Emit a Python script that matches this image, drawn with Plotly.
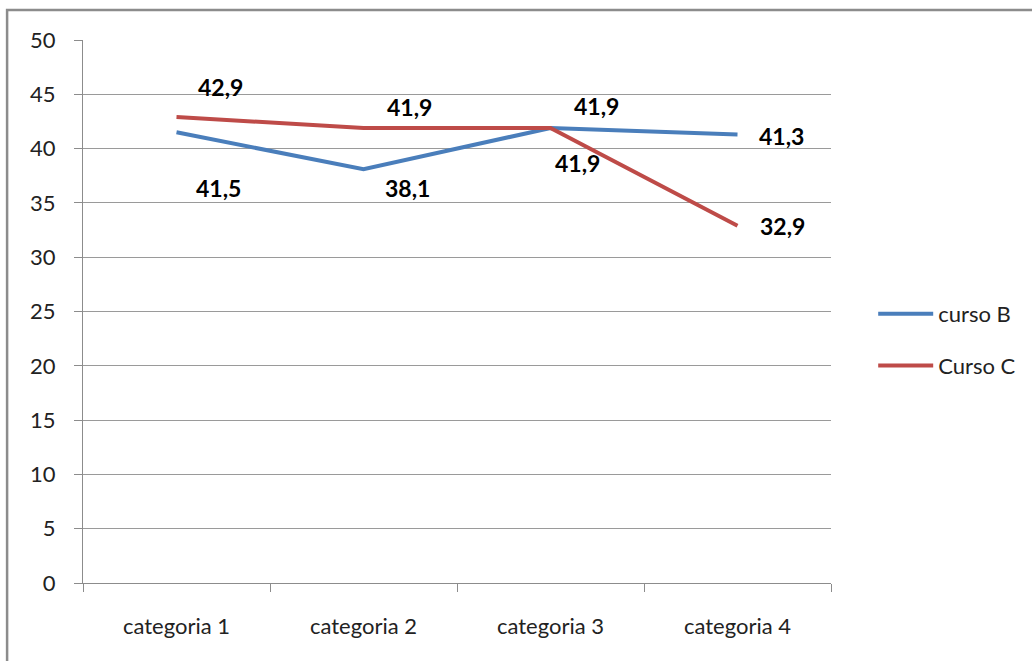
import plotly.graph_objects as go

categories = ["categoria 1", "categoria 2", "categoria 3", "categoria 4"]
curso_b = [41.5, 38.1, 41.9, 41.3]
curso_c = [42.9, 41.9, 41.9, 32.9]
labels_b = ["41,5", "38,1", "41,9", "41,3"]
labels_c = ["42,9", "41,9", "41,9", "32,9"]
y_ticks = [0, 5, 10, 15, 20, 25, 30, 35, 40, 45, 50]

# label pixel offsets (Excel-like placement)
off_b = [(42, -56), (44, -19), (27, -35), (44, -2)]
off_c = [(44, 30), (46, 21), (46, 22), (45, 0)]

FONT = "Lato"
BLUE = "#4A7EBB"
RED = "#BE4B48"

fig = go.Figure()
fig.add_trace(go.Scatter(x=categories, y=curso_b, mode="lines", name="curso B",
                         line=dict(color=BLUE, width=4), legendgroup="b"))
fig.add_trace(go.Scatter(x=categories, y=curso_c, mode="lines", name="Curso C",
                         line=dict(color=RED, width=4), legendgroup="c"))

for cat, v, t, (dx, dy) in zip(categories, curso_b, labels_b, off_b):
    fig.add_annotation(x=cat, y=v, text="<b>%s</b>" % t, showarrow=False,
                       xshift=dx, yshift=dy, font=dict(family=FONT, size=23, color="#000"))
for cat, v, t, (dx, dy) in zip(categories, curso_c, labels_c, off_c):
    fig.add_annotation(x=cat, y=v, text="<b>%s</b>" % t, showarrow=False,
                       xshift=dx, yshift=dy, font=dict(family=FONT, size=23, color="#000"))

L, R, T, B = 83, 200, 40, 78
W, H = 1032, 661
pw, ph = W - L - R, H - T - B
fig.add_shape(type="rect", xref="paper", yref="paper",
              x0=(7 - L) / pw, x1=(W + 10 - L) / pw,
              y0=(H - B - (H + 10)) / ph, y1=(H - B - 10) / ph,
              line=dict(color="#8c8c8c", width=2.5), fillcolor="rgba(0,0,0,0)")

fig.update_layout(
    width=W, height=H,
    margin=dict(l=L, r=R, t=T, b=B),
    paper_bgcolor="white", plot_bgcolor="white",
    font=dict(family=FONT, size=22, color="#222"),
    legend=dict(x=1.055, y=(583 - 340) / ph, xanchor="left", yanchor="middle",
                font=dict(family=FONT, size=22, color="#222"),
                tracegroupgap=20, traceorder="grouped", itemwidth=55),
    xaxis=dict(type="category", range=[-0.5, 3.5], tickson="boundaries",
               ticks="outside", ticklen=8, tickcolor="#8c8c8c", showgrid=False,
               showline=True, linecolor="#8c8c8c", linewidth=1,
               ticklabelstandoff=24, zeroline=False),
    yaxis=dict(range=[0, 50], tickvals=y_ticks, ticks="outside", ticklen=8,
               tickcolor="#8c8c8c", showgrid=True, gridcolor="#9a9a9a", gridwidth=1,
               showline=True, linecolor="#8c8c8c", linewidth=1,
               ticklabelstandoff=14, zeroline=False),
)

fig.write_html("out.html")
